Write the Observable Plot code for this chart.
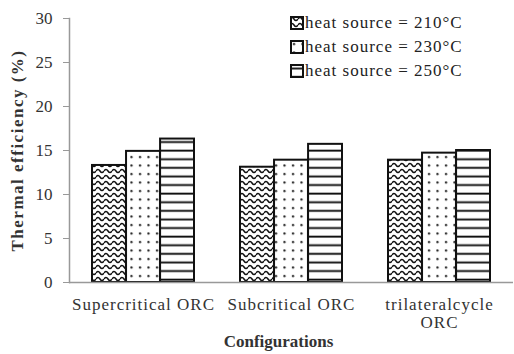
<!DOCTYPE html>
<html>
<head>
<meta charset="utf-8">
<script src="https://cdn.jsdelivr.net/npm/d3@7"></script>
<script src="https://cdn.jsdelivr.net/npm/@observablehq/plot@0.6"></script>
<style>
  body { margin: 0; background: white; }
  #wrap { position: relative; width: 514px; height: 354px; }
  #legend { position: absolute; left: 290px; top: 11px; font-family: 'Liberation Serif', 'Times New Roman', serif; font-size: 17px; letter-spacing: 1px; color: #222; }
  #legend .row { display: flex; align-items: center; height: 24px; white-space: nowrap; }
  #legend svg { margin-right: 1px; }
  .ticklab text, .ticklab { letter-spacing: 1px; }
  .ylab { letter-spacing: 1.5px; }
</style>
</head>
<body>
<svg width="0" height="0" style="position:absolute">
  <defs>
    <pattern id="wave" patternUnits="userSpaceOnUse" width="8" height="6">
      <rect width="8" height="6" fill="white"/>
      <path d="M0,3 Q2,-0.2 4,3 T8,3" fill="none" stroke="#111" stroke-width="1.5"/>
    </pattern>
    <pattern id="dots" patternUnits="userSpaceOnUse" width="8.5" height="8.5">
      <rect width="8.5" height="8.5" fill="white"/>
      <circle cx="4" cy="4" r="1.15" fill="#222"/>
    </pattern>
    <pattern id="stripes" patternUnits="userSpaceOnUse" width="8" height="8.6">
      <rect width="8" height="8.6" fill="white"/>
      <rect y="3.5" width="8" height="1.9" fill="#111"/>
    </pattern>
  </defs>
</svg>
<div id="wrap"></div>
<script>
const configs = ["Supercritical ORC", "Subcritical ORC", "trilateralcycle ORC"];
const configLabels = ["Supercritical ORC", "Subcritical ORC", "trilateralcycle\nORC"];
const series = ["heat source = 210°C", "heat source = 230°C", "heat source = 250°C"];
const v210 = [13.3, 13.1, 13.9];
const v230 = [14.9, 13.9, 14.7];
const v250 = [16.3, 15.7, 15.0];
const yTicks = [0, 5, 10, 15, 20, 25, 30];
const patterns = ["url(#wave)", "url(#dots)", "url(#stripes)"];

const values = [v210, v230, v250];
const labelOf = new Map(configs.map((c, i) => [c, configLabels[i]]));

const W = 514, H = 354, mL = 69, mR = 1, mT = 18, mB = 72;
const xOpts = {type: "band", domain: configs, paddingInner: 0.31, paddingOuter: 0.155};
const bw = Plot.scale({x: {...xOpts, range: [mL, W - mR]}}).bandwidth;

const barMarks = series.map((s, j) => Plot.barY(
  configs.map((c, i) => ({config: c, series: s, value: values[j][i]})),
  {x: "config", y: "value", fill: patterns[j], stroke: "#111", strokeWidth: 2,
   insetLeft: j * bw / 3, insetRight: (2 - j) * bw / 3}
));

const chart = Plot.plot({
  width: W,
  height: H,
  marginLeft: mL,
  marginRight: mR,
  marginTop: mT,
  marginBottom: mB,
  style: {fontFamily: "'Liberation Serif', 'Times New Roman', serif", fontSize: "17px", color: "#333", background: "white", overflow: "visible"},
  x: {...xOpts, axis: null},
  y: {domain: [0, 30], axis: null},
  marks: [
    Plot.axisY({ticks: yTicks, tickSize: 6, tickPadding: 11, label: null, stroke: "#999", color: "#333"}),
    Plot.frame({anchor: "left", stroke: "#999", strokeWidth: 1.5}),
    ...barMarks,
    Plot.ruleY([0], {stroke: "#999", strokeWidth: 1.5}),
    Plot.text(configs, {x: d => d, text: d => labelOf.get(d), frameAnchor: "bottom", lineAnchor: "top", dy: 14, lineHeight: 1.1, fill: "#333", className: "ticklab"}),
    Plot.text(["Thermal efficiency (%)"], {frameAnchor: "left", textAnchor: "middle", rotate: -90, dx: -52, fontWeight: "bold", fill: "#333", className: "ylab"}),
    Plot.text(["Configurations"], {frameAnchor: "bottom", textAnchor: "middle", dy: 64, dx: -13, fontWeight: "bold", fill: "#333"})
  ]
});
const wrap = document.getElementById("wrap");
wrap.appendChild(chart);

const legend = document.createElement("div");
legend.id = "legend";
series.forEach((s, j) => {
  const row = document.createElement("div");
  row.className = "row";
  row.innerHTML = `<svg width="14" height="14"><rect x="1" y="1" width="12" height="12" fill="${patterns[j]}" stroke="#111" stroke-width="2"/></svg><span>${s}</span>`;
  legend.appendChild(row);
});
wrap.appendChild(legend);
</script>
</body>
</html>
